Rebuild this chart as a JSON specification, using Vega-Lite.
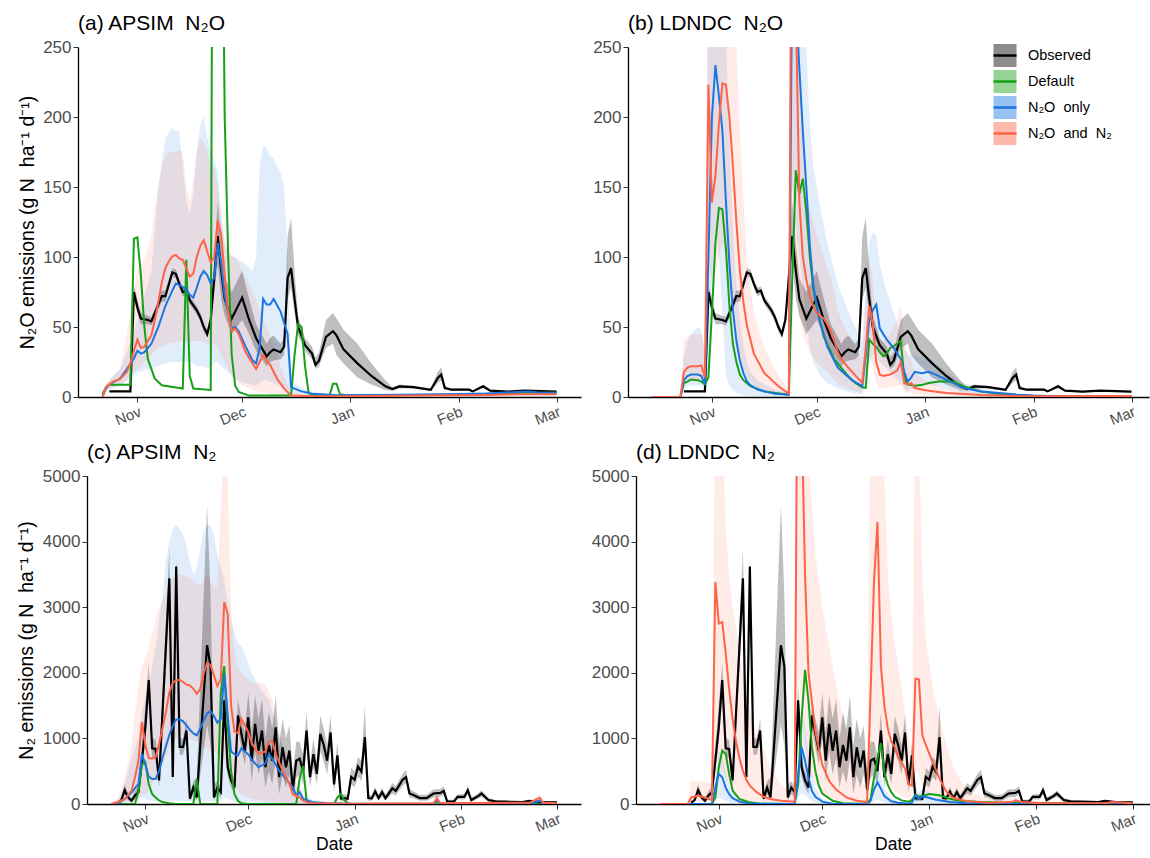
{
"$schema": "https://vega.github.io/schema/vega-lite/v6.json",
"padding": {"left": 5, "top": 13, "right": 0, "bottom": 0},
"config": {
 "font": "Liberation Sans",
 "view": {"stroke": null},
 "axis": {"grid": false, "domainColor": "#000", "domainWidth": 1.3, "tickColor": "#333", "tickSize": 5, "labelFontSize": 15, "labelColor": "#4d4d4d", "titleFontSize": 17.5, "titleFontWeight": "normal", "titleColor": "#000", "labelPadding": 2},
 "axisY": {"labelFontSize": 17, "titleFontSize": 19.5},
 "title": {"fontSize": 21, "fontWeight": "normal", "anchor": "start", "frame": "group", "offset": 0, "color": "#000"}
},
"datasets": {
"n2o_obs": [
{"d":"2018/10/24","v":4,"lo":3.5,"hi":4.5},{"d":"2018/10/30","v":4,"lo":3.5,"hi":4.5},{"d":"2018/10/31","v":75,"lo":70,"hi":80},{"d":"2018/11/01","v":64,"lo":60,"hi":70},{"d":"2018/11/02","v":56,"lo":52,"hi":60},{"d":"2018/11/04","v":55,"lo":52,"hi":58},{"d":"2018/11/05","v":54,"lo":51,"hi":57},{"d":"2018/11/06","v":60,"lo":56,"hi":63},{"d":"2018/11/08","v":72,"lo":68,"hi":76},{"d":"2018/11/09","v":72,"lo":68,"hi":76},{"d":"2018/11/11","v":89,"lo":86,"hi":92},{"d":"2018/11/12","v":88,"lo":85,"hi":91},{"d":"2018/11/13","v":81,"lo":78,"hi":84},{"d":"2018/11/14","v":75,"lo":72,"hi":78},{"d":"2018/11/15","v":76,"lo":73,"hi":79},{"d":"2018/11/16","v":69,"lo":66,"hi":72},{"d":"2018/11/18","v":62,"lo":59,"hi":65},{"d":"2018/11/19","v":57,"lo":54,"hi":60},{"d":"2018/11/20","v":50,"lo":47,"hi":53},{"d":"2018/11/21","v":45,"lo":42,"hi":48},{"d":"2018/11/22","v":55,"lo":51,"hi":59},{"d":"2018/11/23","v":85,"lo":75,"hi":100},{"d":"2018/11/24","v":115,"lo":95,"hi":140},{"d":"2018/11/25","v":90,"lo":70,"hi":110},{"d":"2018/11/26","v":70,"lo":58,"hi":85},{"d":"2018/11/28","v":56,"lo":45,"hi":75},{"d":"2018/12/01","v":71,"lo":55,"hi":90},{"d":"2018/12/03","v":55,"lo":45,"hi":70},{"d":"2018/12/05","v":42,"lo":33,"hi":52},{"d":"2018/12/08","v":29,"lo":22,"hi":38},{"d":"2018/12/09","v":32,"lo":25,"hi":42},{"d":"2018/12/10","v":34,"lo":26,"hi":44},{"d":"2018/12/12","v":32,"lo":27,"hi":38},{"d":"2018/12/13","v":36,"lo":30,"hi":42},{"d":"2018/12/14","v":85,"lo":70,"hi":115},{"d":"2018/12/15","v":92,"lo":78,"hi":128},{"d":"2018/12/16","v":70,"lo":60,"hi":90},{"d":"2018/12/17","v":50,"lo":44,"hi":58},{"d":"2018/12/19","v":37,"lo":33,"hi":42},{"d":"2018/12/21","v":31,"lo":27,"hi":36},{"d":"2018/12/22","v":23,"lo":20,"hi":28},{"d":"2018/12/23","v":26,"lo":22,"hi":32},{"d":"2018/12/25","v":43,"lo":35,"hi":55},{"d":"2018/12/27","v":47,"lo":38,"hi":60},{"d":"2018/12/28","v":44,"lo":30,"hi":56},{"d":"2018/12/30","v":34,"lo":24,"hi":48},{"d":"2019/01/03","v":24,"lo":14,"hi":38},{"d":"2019/01/07","v":15,"lo":9,"hi":24},{"d":"2019/01/11","v":7.6,"lo":5,"hi":12},{"d":"2019/01/13","v":5.7,"lo":4.5,"hi":7},{"d":"2019/01/15","v":7.6,"lo":6,"hi":9},{"d":"2019/01/19","v":7,"lo":6,"hi":8},{"d":"2019/01/24","v":5.2,"lo":4.5,"hi":6},{"d":"2019/01/26","v":13.6,"lo":10,"hi":18},{"d":"2019/01/27","v":16,"lo":12,"hi":21},{"d":"2019/01/28","v":6.4,"lo":5.5,"hi":8},{"d":"2019/01/30","v":5.2,"lo":4.5,"hi":6},{"d":"2019/02/04","v":5.2,"lo":4.5,"hi":6},{"d":"2019/02/05","v":4,"lo":3.5,"hi":4.5},{"d":"2019/02/07","v":6.4,"lo":5.5,"hi":7.5},{"d":"2019/02/08","v":7.6,"lo":6,"hi":9},{"d":"2019/02/10","v":4.5,"lo":4,"hi":5},{"d":"2019/02/15","v":3.8,"lo":3.3,"hi":4.3},{"d":"2019/02/20","v":4.5,"lo":4,"hi":5},{"d":"2019/03/01","v":3.8,"lo":3.3,"hi":4.3}
],
"n2_obs": [
{"d":"2018/10/24","v":20,"lo":10,"hi":40},{"d":"2018/10/25","v":60,"lo":30,"hi":100},{"d":"2018/10/26","v":210,"lo":150,"hi":300},{"d":"2018/10/27","v":100,"lo":60,"hi":150},{"d":"2018/10/28","v":50,"lo":20,"hi":90},{"d":"2018/10/29","v":130,"lo":80,"hi":200},{"d":"2018/10/30","v":180,"lo":120,"hi":260},{"d":"2018/10/31","v":660,"lo":500,"hi":900},{"d":"2018/11/01","v":1170,"lo":950,"hi":1500},{"d":"2018/11/02","v":1890,"lo":1600,"hi":2150},{"d":"2018/11/03","v":850,"lo":700,"hi":1000},{"d":"2018/11/04","v":840,"lo":700,"hi":980},{"d":"2018/11/05","v":360,"lo":250,"hi":500},{"d":"2018/11/08","v":3440,"lo":3000,"hi":3900},{"d":"2018/11/09","v":410,"lo":300,"hi":550},{"d":"2018/11/10","v":3620,"lo":3400,"hi":3780},{"d":"2018/11/11","v":870,"lo":750,"hi":1000},{"d":"2018/11/12","v":870,"lo":750,"hi":1000},{"d":"2018/11/13","v":1120,"lo":950,"hi":1300},{"d":"2018/11/14","v":80,"lo":40,"hi":150},{"d":"2018/11/15","v":250,"lo":150,"hi":350},{"d":"2018/11/16","v":100,"lo":50,"hi":400},{"d":"2018/11/19","v":2420,"lo":1200,"hi":4550},{"d":"2018/11/20","v":2100,"lo":900,"hi":3200},{"d":"2018/11/21","v":100,"lo":50,"hi":300},{"d":"2018/11/22","v":250,"lo":150,"hi":350},{"d":"2018/11/23","v":180,"lo":100,"hi":260},{"d":"2018/11/24","v":1580,"lo":1300,"hi":1850},{"d":"2018/11/25","v":560,"lo":420,"hi":700},{"d":"2018/11/26","v":360,"lo":250,"hi":500},{"d":"2018/11/27","v":250,"lo":150,"hi":350},{"d":"2018/11/28","v":1350,"lo":1150,"hi":1600},{"d":"2018/11/29","v":1070,"lo":850,"hi":1300},{"d":"2018/11/30","v":810,"lo":600,"hi":1100},{"d":"2018/12/01","v":1320,"lo":1000,"hi":1700},{"d":"2018/12/02","v":660,"lo":350,"hi":1100},{"d":"2018/12/03","v":1220,"lo":800,"hi":1650},{"d":"2018/12/04","v":810,"lo":450,"hi":1300},{"d":"2018/12/05","v":1120,"lo":700,"hi":1600},{"d":"2018/12/06","v":560,"lo":250,"hi":1000},{"d":"2018/12/07","v":900,"lo":500,"hi":1400},{"d":"2018/12/08","v":660,"lo":300,"hi":1150},{"d":"2018/12/09","v":1170,"lo":700,"hi":1650},{"d":"2018/12/10","v":410,"lo":150,"hi":900},{"d":"2018/12/11","v":865,"lo":450,"hi":1300},{"d":"2018/12/12","v":560,"lo":250,"hi":1000},{"d":"2018/12/13","v":815,"lo":450,"hi":1200},{"d":"2018/12/14","v":220,"lo":100,"hi":500},{"d":"2018/12/15","v":660,"lo":400,"hi":950},{"d":"2018/12/16","v":690,"lo":450,"hi":950},{"d":"2018/12/17","v":500,"lo":300,"hi":750},{"d":"2018/12/18","v":1120,"lo":850,"hi":1400},{"d":"2018/12/19","v":410,"lo":250,"hi":600},{"d":"2018/12/20","v":760,"lo":550,"hi":1000},{"d":"2018/12/21","v":460,"lo":300,"hi":650},{"d":"2018/12/22","v":1070,"lo":800,"hi":1350},{"d":"2018/12/23","v":900,"lo":650,"hi":1150},{"d":"2018/12/24","v":660,"lo":450,"hi":900},{"d":"2018/12/25","v":1090,"lo":850,"hi":1350},{"d":"2018/12/26","v":300,"lo":180,"hi":450},{"d":"2018/12/27","v":740,"lo":550,"hi":950},{"d":"2018/12/28","v":85,"lo":40,"hi":150},{"d":"2018/12/29","v":90,"lo":50,"hi":150},{"d":"2018/12/30","v":80,"lo":40,"hi":140},{"d":"2018/12/31","v":415,"lo":300,"hi":550},{"d":"2019/01/01","v":370,"lo":250,"hi":500},{"d":"2019/01/02","v":570,"lo":420,"hi":720},{"d":"2019/01/03","v":490,"lo":350,"hi":650},{"d":"2019/01/04","v":1020,"lo":800,"hi":1500},{"d":"2019/01/05","v":90,"lo":50,"hi":150},{"d":"2019/01/06","v":85,"lo":50,"hi":130},{"d":"2019/01/07","v":190,"lo":120,"hi":260},{"d":"2019/01/08","v":90,"lo":50,"hi":140},{"d":"2019/01/09","v":180,"lo":110,"hi":250},{"d":"2019/01/10","v":90,"lo":50,"hi":140},{"d":"2019/01/12","v":240,"lo":160,"hi":320},{"d":"2019/01/13","v":200,"lo":130,"hi":270},{"d":"2019/01/15","v":370,"lo":280,"hi":460},{"d":"2019/01/16","v":410,"lo":320,"hi":520},{"d":"2019/01/17","v":160,"lo":100,"hi":230},{"d":"2019/01/18","v":140,"lo":90,"hi":200},{"d":"2019/01/20","v":90,"lo":50,"hi":140},{"d":"2019/01/22","v":90,"lo":50,"hi":140},{"d":"2019/01/24","v":160,"lo":100,"hi":220},{"d":"2019/01/26","v":170,"lo":110,"hi":230},{"d":"2019/01/27","v":200,"lo":140,"hi":270},{"d":"2019/01/28","v":35,"lo":15,"hi":60},{"d":"2019/01/30","v":40,"lo":20,"hi":70},{"d":"2019/01/31","v":110,"lo":70,"hi":150},{"d":"2019/02/02","v":110,"lo":70,"hi":150},{"d":"2019/02/03","v":210,"lo":150,"hi":270},{"d":"2019/02/04","v":60,"lo":30,"hi":100},{"d":"2019/02/06","v":120,"lo":80,"hi":160},{"d":"2019/02/07","v":160,"lo":110,"hi":210},{"d":"2019/02/09","v":60,"lo":30,"hi":90},{"d":"2019/02/11","v":40,"lo":20,"hi":60},{"d":"2019/02/14","v":35,"lo":20,"hi":50},{"d":"2019/02/19","v":30,"lo":15,"hi":45},{"d":"2019/02/21","v":46,"lo":30,"hi":60},{"d":"2019/02/24","v":30,"lo":15,"hi":45},{"d":"2019/03/01","v":25,"lo":10,"hi":40}
],
"a": [
{"s":"Default","d":"2018/10/22","v":2},{"s":"Default","d":"2018/10/23","v":7},{"s":"Default","d":"2018/10/24","v":8.8},{"s":"Default","d":"2018/10/30","v":8.8},{"s":"Default","d":"2018/10/31","v":113},{"s":"Default","d":"2018/11/01","v":114},{"s":"Default","d":"2018/11/02","v":87},{"s":"Default","d":"2018/11/03","v":50},{"s":"Default","d":"2018/11/04","v":27},{"s":"Default","d":"2018/11/06","v":13},{"s":"Default","d":"2018/11/08","v":8.4},{"s":"Default","d":"2018/11/14","v":6},{"s":"Default","d":"2018/11/15","v":98},{"s":"Default","d":"2018/11/16","v":15},{"s":"Default","d":"2018/11/17","v":6},{"s":"Default","d":"2018/11/22","v":5},{"s":"Default","d":"2018/11/23","v":800},{"s":"Default","d":"2018/11/24","v":700},{"s":"Default","d":"2018/11/25","v":450},{"s":"Default","d":"2018/11/26","v":200},{"s":"Default","d":"2018/11/27","v":100},{"s":"Default","d":"2018/11/28","v":30},{"s":"Default","d":"2018/11/29","v":8},{"s":"Default","d":"2018/11/30","v":3.6},{"s":"Default","d":"2018/12/03","v":1},{"s":"Default","d":"2018/12/15","v":1},{"s":"Default","d":"2018/12/16","v":30},{"s":"Default","d":"2018/12/17","v":52},{"s":"Default","d":"2018/12/18","v":50},{"s":"Default","d":"2018/12/19","v":22},{"s":"Default","d":"2018/12/20","v":3},{"s":"Default","d":"2018/12/21","v":1},{"s":"Default","d":"2018/12/26","v":1},{"s":"Default","d":"2018/12/27","v":9.5},{"s":"Default","d":"2018/12/28","v":9.5},{"s":"Default","d":"2018/12/29","v":2},{"s":"Default","d":"2018/12/31","v":1},{"s":"Default","d":"2019/01/20","v":1.5},{"s":"Default","d":"2019/02/09","v":2},{"s":"Default","d":"2019/02/19","v":3},{"s":"Default","d":"2019/03/01","v":3},
{"s":"N2O only","d":"2018/10/22","v":0,"lo":0,"hi":1},{"s":"N2O only","d":"2018/10/23","v":6,"lo":4,"hi":9},{"s":"N2O only","d":"2018/10/24","v":9,"lo":5,"hi":12},{"s":"N2O only","d":"2018/10/25","v":10.5,"lo":6,"hi":15},{"s":"N2O only","d":"2018/10/27","v":13,"lo":8,"hi":20},{"s":"N2O only","d":"2018/10/29","v":20,"lo":12,"hi":32},{"s":"N2O only","d":"2018/10/31","v":27.5,"lo":15,"hi":45},{"s":"N2O only","d":"2018/11/01","v":33,"lo":18,"hi":55},{"s":"N2O only","d":"2018/11/02","v":31,"lo":18,"hi":65},{"s":"N2O only","d":"2018/11/03","v":32,"lo":19,"hi":72},{"s":"N2O only","d":"2018/11/05","v":38,"lo":20,"hi":90},{"s":"N2O only","d":"2018/11/07","v":50,"lo":22,"hi":150},{"s":"N2O only","d":"2018/11/09","v":65,"lo":24,"hi":185},{"s":"N2O only","d":"2018/11/11","v":76,"lo":25,"hi":192},{"s":"N2O only","d":"2018/11/12","v":81,"lo":25,"hi":190},{"s":"N2O only","d":"2018/11/13","v":80,"lo":25,"hi":190},{"s":"N2O only","d":"2018/11/15","v":77,"lo":25,"hi":140},{"s":"N2O only","d":"2018/11/16","v":73,"lo":25,"hi":130},{"s":"N2O only","d":"2018/11/17","v":71,"lo":24,"hi":145},{"s":"N2O only","d":"2018/11/18","v":78,"lo":22,"hi":175},{"s":"N2O only","d":"2018/11/19","v":86,"lo":22,"hi":195},{"s":"N2O only","d":"2018/11/20","v":90,"lo":22,"hi":200},{"s":"N2O only","d":"2018/11/21","v":87,"lo":20,"hi":185},{"s":"N2O only","d":"2018/11/22","v":81,"lo":20,"hi":175},{"s":"N2O only","d":"2018/11/23","v":85,"lo":25,"hi":170},{"s":"N2O only","d":"2018/11/24","v":110,"lo":25,"hi":160},{"s":"N2O only","d":"2018/11/25","v":95,"lo":22,"hi":130},{"s":"N2O only","d":"2018/11/26","v":72,"lo":20,"hi":110},{"s":"N2O only","d":"2018/11/27","v":60,"lo":18,"hi":102},{"s":"N2O only","d":"2018/11/28","v":49,"lo":15,"hi":100},{"s":"N2O only","d":"2018/11/29","v":50,"lo":13,"hi":100},{"s":"N2O only","d":"2018/11/30","v":47,"lo":12,"hi":98},{"s":"N2O only","d":"2018/12/02","v":36,"lo":10,"hi":95},{"s":"N2O only","d":"2018/12/04","v":26,"lo":8,"hi":90},{"s":"N2O only","d":"2018/12/05","v":24,"lo":8,"hi":100},{"s":"N2O only","d":"2018/12/06","v":35,"lo":10,"hi":165},{"s":"N2O only","d":"2018/12/07","v":70,"lo":12,"hi":180},{"s":"N2O only","d":"2018/12/08","v":66,"lo":12,"hi":178},{"s":"N2O only","d":"2018/12/09","v":66,"lo":11,"hi":172},{"s":"N2O only","d":"2018/12/10","v":70,"lo":10,"hi":170},{"s":"N2O only","d":"2018/12/12","v":61,"lo":8,"hi":160},{"s":"N2O only","d":"2018/12/13","v":53,"lo":6,"hi":150},{"s":"N2O only","d":"2018/12/14","v":45,"lo":3,"hi":100},{"s":"N2O only","d":"2018/12/15","v":7,"lo":1,"hi":15},{"s":"N2O only","d":"2018/12/16","v":6,"lo":1,"hi":10},{"s":"N2O only","d":"2018/12/18","v":4,"lo":0.5,"hi":6},{"s":"N2O only","d":"2018/12/21","v":2.4,"lo":0,"hi":4},{"s":"N2O only","d":"2018/12/28","v":1.2,"lo":0,"hi":2},{"s":"N2O only","d":"2019/01/10","v":1.5,"lo":0.5,"hi":2.5},{"s":"N2O only","d":"2019/01/30","v":2,"lo":1,"hi":3},{"s":"N2O only","d":"2019/02/09","v":2.5,"lo":1.5,"hi":3.5},{"s":"N2O only","d":"2019/02/21","v":4,"lo":2.5,"hi":5},{"s":"N2O only","d":"2019/02/24","v":3,"lo":2,"hi":4},{"s":"N2O only","d":"2019/03/01","v":3,"lo":2,"hi":4},
{"s":"N2O and N2","d":"2018/10/22","v":0,"lo":0,"hi":1},{"s":"N2O and N2","d":"2018/10/23","v":7,"lo":5,"hi":9},{"s":"N2O and N2","d":"2018/10/24","v":9,"lo":6,"hi":12},{"s":"N2O and N2","d":"2018/10/25","v":11,"lo":7,"hi":15},{"s":"N2O and N2","d":"2018/10/27","v":12.7,"lo":8,"hi":20},{"s":"N2O and N2","d":"2018/10/29","v":18,"lo":12,"hi":45},{"s":"N2O and N2","d":"2018/10/30","v":24,"lo":15,"hi":60},{"s":"N2O and N2","d":"2018/10/31","v":33,"lo":18,"hi":75},{"s":"N2O and N2","d":"2018/11/01","v":41,"lo":20,"hi":90},{"s":"N2O and N2","d":"2018/11/02","v":35,"lo":22,"hi":95},{"s":"N2O and N2","d":"2018/11/03","v":36,"lo":25,"hi":98},{"s":"N2O and N2","d":"2018/11/05","v":44,"lo":30,"hi":115},{"s":"N2O and N2","d":"2018/11/06","v":55,"lo":33,"hi":135},{"s":"N2O and N2","d":"2018/11/07","v":68,"lo":35,"hi":150},{"s":"N2O and N2","d":"2018/11/08","v":82,"lo":36,"hi":165},{"s":"N2O and N2","d":"2018/11/09","v":92,"lo":37,"hi":172},{"s":"N2O and N2","d":"2018/11/10","v":97,"lo":38,"hi":175},{"s":"N2O and N2","d":"2018/11/11","v":100.5,"lo":39,"hi":175},{"s":"N2O and N2","d":"2018/11/12","v":101.5,"lo":39,"hi":175},{"s":"N2O and N2","d":"2018/11/13","v":99,"lo":40,"hi":176},{"s":"N2O and N2","d":"2018/11/14","v":98,"lo":40,"hi":175},{"s":"N2O and N2","d":"2018/11/15","v":92,"lo":40,"hi":150},{"s":"N2O and N2","d":"2018/11/16","v":86,"lo":40,"hi":140},{"s":"N2O and N2","d":"2018/11/17","v":88,"lo":40,"hi":155},{"s":"N2O and N2","d":"2018/11/18","v":100,"lo":40,"hi":175},{"s":"N2O and N2","d":"2018/11/19","v":108,"lo":40,"hi":185},{"s":"N2O and N2","d":"2018/11/20","v":112,"lo":39,"hi":182},{"s":"N2O and N2","d":"2018/11/21","v":104,"lo":38,"hi":175},{"s":"N2O and N2","d":"2018/11/22","v":96,"lo":38,"hi":165},{"s":"N2O and N2","d":"2018/11/23","v":100,"lo":38,"hi":165},{"s":"N2O and N2","d":"2018/11/24","v":126,"lo":35,"hi":150},{"s":"N2O and N2","d":"2018/11/25","v":116,"lo":30,"hi":130},{"s":"N2O and N2","d":"2018/11/26","v":87,"lo":25,"hi":110},{"s":"N2O and N2","d":"2018/11/27","v":60,"lo":20,"hi":105},{"s":"N2O and N2","d":"2018/11/28","v":47,"lo":15,"hi":102},{"s":"N2O and N2","d":"2018/11/29","v":49,"lo":12,"hi":100},{"s":"N2O and N2","d":"2018/11/30","v":45,"lo":10,"hi":95},{"s":"N2O and N2","d":"2018/12/02","v":32,"lo":7,"hi":85},{"s":"N2O and N2","d":"2018/12/04","v":24,"lo":5,"hi":75},{"s":"N2O and N2","d":"2018/12/05","v":20,"lo":4,"hi":70},{"s":"N2O and N2","d":"2018/12/06","v":25,"lo":4,"hi":62},{"s":"N2O and N2","d":"2018/12/07","v":30,"lo":3,"hi":55},{"s":"N2O and N2","d":"2018/12/08","v":26,"lo":3,"hi":50},{"s":"N2O and N2","d":"2018/12/09","v":23,"lo":2,"hi":45},{"s":"N2O and N2","d":"2018/12/11","v":13,"lo":1,"hi":30},{"s":"N2O and N2","d":"2018/12/13","v":6,"lo":0.5,"hi":15},{"s":"N2O and N2","d":"2018/12/15","v":1,"lo":0,"hi":3},{"s":"N2O and N2","d":"2018/12/21","v":0.5,"lo":0,"hi":1},{"s":"N2O and N2","d":"2018/12/31","v":0.5,"lo":0,"hi":1},{"s":"N2O and N2","d":"2019/01/20","v":1,"lo":0.5,"hi":1.5},{"s":"N2O and N2","d":"2019/02/09","v":1.5,"lo":1,"hi":2},{"s":"N2O and N2","d":"2019/02/19","v":2,"lo":1,"hi":3},{"s":"N2O and N2","d":"2019/03/01","v":2,"lo":1.5,"hi":3}
],
"b": [
{"s":"Default","d":"2018/10/15","v":0},{"s":"Default","d":"2018/10/23","v":0},{"s":"Default","d":"2018/10/24","v":10},{"s":"Default","d":"2018/10/25","v":11},{"s":"Default","d":"2018/10/26","v":12.5},{"s":"Default","d":"2018/10/28","v":12},{"s":"Default","d":"2018/10/29","v":11},{"s":"Default","d":"2018/10/30","v":9},{"s":"Default","d":"2018/10/31","v":14},{"s":"Default","d":"2018/11/01","v":60},{"s":"Default","d":"2018/11/02","v":110},{"s":"Default","d":"2018/11/03","v":135},{"s":"Default","d":"2018/11/04","v":134},{"s":"Default","d":"2018/11/05","v":106},{"s":"Default","d":"2018/11/06","v":65},{"s":"Default","d":"2018/11/07","v":38},{"s":"Default","d":"2018/11/08","v":25},{"s":"Default","d":"2018/11/09","v":16},{"s":"Default","d":"2018/11/10","v":12},{"s":"Default","d":"2018/11/12","v":7.7},{"s":"Default","d":"2018/11/16","v":4},{"s":"Default","d":"2018/11/23","v":1.7},{"s":"Default","d":"2018/11/24","v":87},{"s":"Default","d":"2018/11/25","v":162},{"s":"Default","d":"2018/11/26","v":145},{"s":"Default","d":"2018/11/27","v":156},{"s":"Default","d":"2018/11/28","v":132},{"s":"Default","d":"2018/11/29","v":100},{"s":"Default","d":"2018/11/30","v":78},{"s":"Default","d":"2018/12/01","v":63},{"s":"Default","d":"2018/12/03","v":43},{"s":"Default","d":"2018/12/06","v":27},{"s":"Default","d":"2018/12/10","v":14.8},{"s":"Default","d":"2018/12/12","v":10},{"s":"Default","d":"2018/12/14","v":7},{"s":"Default","d":"2018/12/15","v":6.5},{"s":"Default","d":"2018/12/16","v":41},{"s":"Default","d":"2018/12/17","v":38},{"s":"Default","d":"2018/12/18","v":36},{"s":"Default","d":"2018/12/19","v":32},{"s":"Default","d":"2018/12/20","v":29},{"s":"Default","d":"2018/12/21","v":31},{"s":"Default","d":"2018/12/22","v":35},{"s":"Default","d":"2018/12/24","v":38},{"s":"Default","d":"2018/12/25","v":40},{"s":"Default","d":"2018/12/26","v":14},{"s":"Default","d":"2018/12/27","v":9},{"s":"Default","d":"2018/12/29","v":8},{"s":"Default","d":"2018/12/31","v":8.5},{"s":"Default","d":"2019/01/02","v":10},{"s":"Default","d":"2019/01/05","v":11},{"s":"Default","d":"2019/01/09","v":11},{"s":"Default","d":"2019/01/12","v":7.6},{"s":"Default","d":"2019/01/17","v":4},{"s":"Default","d":"2019/01/22","v":2.4},{"s":"Default","d":"2019/01/27","v":1.4},{"s":"Default","d":"2019/02/01","v":0.8},{"s":"Default","d":"2019/03/01","v":0.5},
{"s":"N2O only","d":"2018/10/15","v":0,"lo":0,"hi":0},{"s":"N2O only","d":"2018/10/23","v":0,"lo":0,"hi":0},{"s":"N2O only","d":"2018/10/24","v":12,"lo":6,"hi":30},{"s":"N2O only","d":"2018/10/25","v":15,"lo":8,"hi":40},{"s":"N2O only","d":"2018/10/26","v":16,"lo":8,"hi":45},{"s":"N2O only","d":"2018/10/28","v":16,"lo":8,"hi":50},{"s":"N2O only","d":"2018/10/29","v":15,"lo":8,"hi":48},{"s":"N2O only","d":"2018/10/30","v":9,"lo":5,"hi":30},{"s":"N2O only","d":"2018/10/31","v":100,"lo":20,"hi":300},{"s":"N2O only","d":"2018/11/01","v":200,"lo":80,"hi":400},{"s":"N2O only","d":"2018/11/02","v":237,"lo":120,"hi":450},{"s":"N2O only","d":"2018/11/03","v":215,"lo":100,"hi":400},{"s":"N2O only","d":"2018/11/04","v":190,"lo":60,"hi":330},{"s":"N2O only","d":"2018/11/05","v":140,"lo":15,"hi":260},{"s":"N2O only","d":"2018/11/06","v":95,"lo":8,"hi":180},{"s":"N2O only","d":"2018/11/07","v":62,"lo":5,"hi":120},{"s":"N2O only","d":"2018/11/08","v":40,"lo":3,"hi":80},{"s":"N2O only","d":"2018/11/09","v":26,"lo":2,"hi":55},{"s":"N2O only","d":"2018/11/10","v":17,"lo":1.5,"hi":38},{"s":"N2O only","d":"2018/11/11","v":11.3,"lo":1,"hi":25},{"s":"N2O only","d":"2018/11/12","v":8.5,"lo":0.8,"hi":18},{"s":"N2O only","d":"2018/11/14","v":5.3,"lo":0.5,"hi":12},{"s":"N2O only","d":"2018/11/19","v":2.4,"lo":0.2,"hi":5},{"s":"N2O only","d":"2018/11/23","v":1.7,"lo":0.2,"hi":4},{"s":"N2O only","d":"2018/11/24","v":330,"lo":150,"hi":500},{"s":"N2O only","d":"2018/11/25","v":280,"lo":120,"hi":450},{"s":"N2O only","d":"2018/11/26","v":235,"lo":100,"hi":400},{"s":"N2O only","d":"2018/11/27","v":190,"lo":80,"hi":330},{"s":"N2O only","d":"2018/11/28","v":150,"lo":55,"hi":250},{"s":"N2O only","d":"2018/11/29","v":108,"lo":35,"hi":195},{"s":"N2O only","d":"2018/11/30","v":80,"lo":25,"hi":165},{"s":"N2O only","d":"2018/12/01","v":65,"lo":20,"hi":150},{"s":"N2O only","d":"2018/12/02","v":53,"lo":15,"hi":135},{"s":"N2O only","d":"2018/12/04","v":36,"lo":10,"hi":110},{"s":"N2O only","d":"2018/12/07","v":21,"lo":6,"hi":80},{"s":"N2O only","d":"2018/12/11","v":12,"lo":3,"hi":55},{"s":"N2O only","d":"2018/12/14","v":7.7,"lo":2,"hi":40},{"s":"N2O only","d":"2018/12/15","v":30,"lo":10,"hi":80},{"s":"N2O only","d":"2018/12/16","v":55,"lo":25,"hi":110},{"s":"N2O only","d":"2018/12/17","v":62,"lo":30,"hi":118},{"s":"N2O only","d":"2018/12/18","v":66,"lo":30,"hi":115},{"s":"N2O only","d":"2018/12/19","v":49,"lo":25,"hi":95},{"s":"N2O only","d":"2018/12/21","v":41,"lo":20,"hi":75},{"s":"N2O only","d":"2018/12/23","v":35,"lo":15,"hi":60},{"s":"N2O only","d":"2018/12/25","v":27,"lo":10,"hi":45},{"s":"N2O only","d":"2018/12/26","v":18,"lo":6,"hi":35},{"s":"N2O only","d":"2018/12/27","v":11,"lo":4,"hi":30},{"s":"N2O only","d":"2018/12/28","v":14,"lo":6,"hi":30},{"s":"N2O only","d":"2018/12/29","v":18,"lo":8,"hi":30},{"s":"N2O only","d":"2018/12/31","v":17,"lo":8,"hi":28},{"s":"N2O only","d":"2019/01/02","v":18,"lo":9,"hi":26},{"s":"N2O only","d":"2019/01/04","v":16,"lo":8,"hi":24},{"s":"N2O only","d":"2019/01/07","v":12.4,"lo":6,"hi":18},{"s":"N2O only","d":"2019/01/12","v":6.4,"lo":3,"hi":10},{"s":"N2O only","d":"2019/01/17","v":4,"lo":2,"hi":6},{"s":"N2O only","d":"2019/01/22","v":2.9,"lo":1.5,"hi":4},{"s":"N2O only","d":"2019/01/27","v":1.7,"lo":1,"hi":2.5},{"s":"N2O only","d":"2019/02/01","v":1,"lo":0.5,"hi":1.5},{"s":"N2O only","d":"2019/02/09","v":0.4,"lo":0.2,"hi":0.6},{"s":"N2O only","d":"2019/03/01","v":0.4,"lo":0.2,"hi":0.6},
{"s":"N2O and N2","d":"2018/10/15","v":0,"lo":0,"hi":0},{"s":"N2O and N2","d":"2018/10/23","v":0,"lo":0,"hi":0},{"s":"N2O and N2","d":"2018/10/24","v":18,"lo":10,"hi":40},{"s":"N2O and N2","d":"2018/10/25","v":21,"lo":12,"hi":43},{"s":"N2O and N2","d":"2018/10/26","v":22,"lo":12,"hi":45},{"s":"N2O and N2","d":"2018/10/28","v":22,"lo":12,"hi":45},{"s":"N2O and N2","d":"2018/10/29","v":22.5,"lo":12,"hi":45},{"s":"N2O and N2","d":"2018/10/30","v":14,"lo":8,"hi":35},{"s":"N2O and N2","d":"2018/10/31","v":223,"lo":100,"hi":400},{"s":"N2O and N2","d":"2018/11/01","v":139,"lo":80,"hi":400},{"s":"N2O and N2","d":"2018/11/02","v":158,"lo":90,"hi":450},{"s":"N2O and N2","d":"2018/11/03","v":195,"lo":100,"hi":450},{"s":"N2O and N2","d":"2018/11/04","v":224,"lo":110,"hi":450},{"s":"N2O and N2","d":"2018/11/05","v":223,"lo":100,"hi":420},{"s":"N2O and N2","d":"2018/11/06","v":200,"lo":80,"hi":380},{"s":"N2O and N2","d":"2018/11/07","v":165,"lo":60,"hi":320},{"s":"N2O and N2","d":"2018/11/08","v":125,"lo":40,"hi":250},{"s":"N2O and N2","d":"2018/11/09","v":90,"lo":30,"hi":190},{"s":"N2O and N2","d":"2018/11/10","v":68,"lo":20,"hi":140},{"s":"N2O and N2","d":"2018/11/11","v":51,"lo":15,"hi":100},{"s":"N2O and N2","d":"2018/11/13","v":31,"lo":8,"hi":60},{"s":"N2O and N2","d":"2018/11/16","v":17,"lo":4,"hi":35},{"s":"N2O and N2","d":"2018/11/20","v":7.7,"lo":2,"hi":15},{"s":"N2O and N2","d":"2018/11/23","v":2.4,"lo":0.5,"hi":5},{"s":"N2O and N2","d":"2018/11/24","v":500,"lo":150,"hi":800},{"s":"N2O and N2","d":"2018/11/25","v":280,"lo":100,"hi":500},{"s":"N2O and N2","d":"2018/11/26","v":140,"lo":60,"hi":250},{"s":"N2O and N2","d":"2018/11/27","v":100,"lo":45,"hi":180},{"s":"N2O and N2","d":"2018/11/28","v":84,"lo":38,"hi":150},{"s":"N2O and N2","d":"2018/11/29","v":72,"lo":32,"hi":135},{"s":"N2O and N2","d":"2018/11/30","v":65,"lo":28,"hi":125},{"s":"N2O and N2","d":"2018/12/01","v":60,"lo":25,"hi":115},{"s":"N2O and N2","d":"2018/12/02","v":58,"lo":22,"hi":108},{"s":"N2O and N2","d":"2018/12/03","v":56,"lo":20,"hi":100},{"s":"N2O and N2","d":"2018/12/04","v":52,"lo":18,"hi":92},{"s":"N2O and N2","d":"2018/12/05","v":47,"lo":15,"hi":85},{"s":"N2O and N2","d":"2018/12/06","v":40,"lo":12,"hi":75},{"s":"N2O and N2","d":"2018/12/07","v":32,"lo":10,"hi":62},{"s":"N2O and N2","d":"2018/12/08","v":27,"lo":8,"hi":55},{"s":"N2O and N2","d":"2018/12/10","v":21,"lo":6,"hi":45},{"s":"N2O and N2","d":"2018/12/12","v":15.5,"lo":4,"hi":35},{"s":"N2O and N2","d":"2018/12/14","v":10,"lo":3,"hi":25},{"s":"N2O and N2","d":"2018/12/15","v":35,"lo":15,"hi":70},{"s":"N2O and N2","d":"2018/12/16","v":65,"lo":30,"hi":98},{"s":"N2O and N2","d":"2018/12/17","v":52,"lo":22,"hi":85},{"s":"N2O and N2","d":"2018/12/18","v":25,"lo":10,"hi":55},{"s":"N2O and N2","d":"2018/12/19","v":16,"lo":6,"hi":40},{"s":"N2O and N2","d":"2018/12/20","v":15,"lo":6,"hi":40},{"s":"N2O and N2","d":"2018/12/22","v":16,"lo":7,"hi":45},{"s":"N2O and N2","d":"2018/12/24","v":19,"lo":8,"hi":55},{"s":"N2O and N2","d":"2018/12/25","v":25,"lo":9,"hi":67},{"s":"N2O and N2","d":"2018/12/26","v":10,"lo":4,"hi":40},{"s":"N2O and N2","d":"2018/12/27","v":8.8,"lo":3,"hi":30},{"s":"N2O and N2","d":"2018/12/28","v":10,"lo":3,"hi":25},{"s":"N2O and N2","d":"2018/12/29","v":6.4,"lo":2,"hi":18},{"s":"N2O and N2","d":"2019/01/01","v":4.8,"lo":1.5,"hi":12},{"s":"N2O and N2","d":"2019/01/07","v":2.9,"lo":1,"hi":6},{"s":"N2O and N2","d":"2019/01/17","v":1.4,"lo":0.5,"hi":3},{"s":"N2O and N2","d":"2019/01/27","v":0.7,"lo":0.3,"hi":1.5},{"s":"N2O and N2","d":"2019/02/10","v":0.5,"lo":0.2,"hi":1},{"s":"N2O and N2","d":"2019/03/01","v":0.8,"lo":0.4,"hi":1.2}
],
"c": [
{"s":"Default","d":"2018/10/22","v":0},{"s":"Default","d":"2018/10/29","v":0},{"s":"Default","d":"2018/10/30","v":200},{"s":"Default","d":"2018/10/31","v":600},{"s":"Default","d":"2018/11/01","v":640},{"s":"Default","d":"2018/11/02","v":305},{"s":"Default","d":"2018/11/03","v":150},{"s":"Default","d":"2018/11/04","v":100},{"s":"Default","d":"2018/11/05","v":55},{"s":"Default","d":"2018/11/06","v":30},{"s":"Default","d":"2018/11/08","v":10},{"s":"Default","d":"2018/11/10","v":0},{"s":"Default","d":"2018/11/15","v":0},{"s":"Default","d":"2018/11/16","v":380},{"s":"Default","d":"2018/11/17","v":0},{"s":"Default","d":"2018/11/22","v":0},{"s":"Default","d":"2018/11/23","v":1700},{"s":"Default","d":"2018/11/24","v":2100},{"s":"Default","d":"2018/11/25","v":1200},{"s":"Default","d":"2018/11/26","v":500},{"s":"Default","d":"2018/11/27","v":150},{"s":"Default","d":"2018/11/28","v":50},{"s":"Default","d":"2018/11/29","v":12},{"s":"Default","d":"2018/12/01","v":0},{"s":"Default","d":"2018/12/15","v":0},{"s":"Default","d":"2018/12/16","v":400},{"s":"Default","d":"2018/12/17","v":580},{"s":"Default","d":"2018/12/18","v":50},{"s":"Default","d":"2018/12/19","v":0},{"s":"Default","d":"2018/12/26","v":0},{"s":"Default","d":"2018/12/27","v":100},{"s":"Default","d":"2018/12/28","v":150},{"s":"Default","d":"2018/12/29","v":60},{"s":"Default","d":"2018/12/30","v":10},{"s":"Default","d":"2018/12/31","v":0},{"s":"Default","d":"2019/01/24","v":0},{"s":"Default","d":"2019/01/25","v":35},{"s":"Default","d":"2019/01/26","v":0},{"s":"Default","d":"2019/02/21","v":0},{"s":"Default","d":"2019/02/22","v":35},{"s":"Default","d":"2019/02/23","v":0},{"s":"Default","d":"2019/03/01","v":0},
{"s":"N2O only","d":"2018/10/22","v":0,"lo":0,"hi":0},{"s":"N2O only","d":"2018/10/24","v":10,"lo":5,"hi":40},{"s":"N2O only","d":"2018/10/26","v":76,"lo":20,"hi":300},{"s":"N2O only","d":"2018/10/28","v":178,"lo":40,"hi":700},{"s":"N2O only","d":"2018/10/30","v":305,"lo":60,"hi":1000},{"s":"N2O only","d":"2018/10/31","v":763,"lo":100,"hi":1400},{"s":"N2O only","d":"2018/11/01","v":600,"lo":80,"hi":1600},{"s":"N2O only","d":"2018/11/02","v":420,"lo":60,"hi":1800},{"s":"N2O only","d":"2018/11/03","v":382,"lo":50,"hi":2100},{"s":"N2O only","d":"2018/11/04","v":382,"lo":50,"hi":2400},{"s":"N2O only","d":"2018/11/05","v":500,"lo":50,"hi":2800},{"s":"N2O only","d":"2018/11/06","v":700,"lo":50,"hi":3200},{"s":"N2O only","d":"2018/11/07","v":880,"lo":50,"hi":3700},{"s":"N2O only","d":"2018/11/08","v":1050,"lo":50,"hi":4000},{"s":"N2O only","d":"2018/11/09","v":1190,"lo":50,"hi":4200},{"s":"N2O only","d":"2018/11/10","v":1290,"lo":50,"hi":4250},{"s":"N2O only","d":"2018/11/11","v":1290,"lo":50,"hi":4200},{"s":"N2O only","d":"2018/11/12","v":1260,"lo":50,"hi":4100},{"s":"N2O only","d":"2018/11/13","v":1200,"lo":50,"hi":3950},{"s":"N2O only","d":"2018/11/14","v":1130,"lo":50,"hi":3700},{"s":"N2O only","d":"2018/11/15","v":1075,"lo":50,"hi":3500},{"s":"N2O only","d":"2018/11/16","v":1045,"lo":50,"hi":3600},{"s":"N2O only","d":"2018/11/17","v":1150,"lo":50,"hi":3900},{"s":"N2O only","d":"2018/11/18","v":1270,"lo":50,"hi":4150},{"s":"N2O only","d":"2018/11/19","v":1380,"lo":50,"hi":4250},{"s":"N2O only","d":"2018/11/20","v":1415,"lo":50,"hi":4250},{"s":"N2O only","d":"2018/11/21","v":1340,"lo":50,"hi":4100},{"s":"N2O only","d":"2018/11/22","v":1240,"lo":50,"hi":3800},{"s":"N2O only","d":"2018/11/23","v":1300,"lo":50,"hi":3600},{"s":"N2O only","d":"2018/11/24","v":1985,"lo":100,"hi":3400},{"s":"N2O only","d":"2018/11/25","v":1350,"lo":80,"hi":3100},{"s":"N2O only","d":"2018/11/26","v":800,"lo":60,"hi":2800},{"s":"N2O only","d":"2018/11/27","v":760,"lo":40,"hi":2600},{"s":"N2O only","d":"2018/11/28","v":740,"lo":30,"hi":2450},{"s":"N2O only","d":"2018/11/29","v":850,"lo":30,"hi":2400},{"s":"N2O only","d":"2018/11/30","v":800,"lo":30,"hi":2300},{"s":"N2O only","d":"2018/12/01","v":760,"lo":25,"hi":2150},{"s":"N2O only","d":"2018/12/02","v":680,"lo":25,"hi":2000},{"s":"N2O only","d":"2018/12/04","v":560,"lo":20,"hi":1800},{"s":"N2O only","d":"2018/12/06","v":620,"lo":15,"hi":1650},{"s":"N2O only","d":"2018/12/07","v":763,"lo":15,"hi":1600},{"s":"N2O only","d":"2018/12/08","v":690,"lo":10,"hi":1400},{"s":"N2O only","d":"2018/12/10","v":509,"lo":5,"hi":1050},{"s":"N2O only","d":"2018/12/12","v":382,"lo":5,"hi":700},{"s":"N2O only","d":"2018/12/14","v":254,"lo":3,"hi":420},{"s":"N2O only","d":"2018/12/15","v":127,"lo":2,"hi":250},{"s":"N2O only","d":"2018/12/16","v":178,"lo":2,"hi":300},{"s":"N2O only","d":"2018/12/17","v":76,"lo":1,"hi":150},{"s":"N2O only","d":"2018/12/20","v":25,"lo":0,"hi":60},{"s":"N2O only","d":"2018/12/24","v":10,"lo":0,"hi":25},{"s":"N2O only","d":"2018/12/31","v":5,"lo":0,"hi":10},{"s":"N2O only","d":"2019/01/24","v":5,"lo":0,"hi":10},{"s":"N2O only","d":"2019/01/25","v":60,"lo":20,"hi":100},{"s":"N2O only","d":"2019/01/26","v":10,"lo":0,"hi":20},{"s":"N2O only","d":"2019/02/21","v":5,"lo":0,"hi":10},{"s":"N2O only","d":"2019/02/24","v":50,"lo":20,"hi":80},{"s":"N2O only","d":"2019/02/25","v":10,"lo":0,"hi":20},{"s":"N2O only","d":"2019/03/01","v":5,"lo":0,"hi":10},
{"s":"N2O and N2","d":"2018/10/22","v":0,"lo":0,"hi":0},{"s":"N2O and N2","d":"2018/10/24","v":30,"lo":10,"hi":100},{"s":"N2O and N2","d":"2018/10/26","v":76,"lo":20,"hi":400},{"s":"N2O and N2","d":"2018/10/28","v":204,"lo":50,"hi":900},{"s":"N2O and N2","d":"2018/10/29","v":407,"lo":80,"hi":1400},{"s":"N2O and N2","d":"2018/10/30","v":662,"lo":100,"hi":1800},{"s":"N2O and N2","d":"2018/10/31","v":1247,"lo":150,"hi":2100},{"s":"N2O and N2","d":"2018/11/01","v":900,"lo":150,"hi":2200},{"s":"N2O and N2","d":"2018/11/02","v":700,"lo":200,"hi":2400},{"s":"N2O and N2","d":"2018/11/03","v":690,"lo":300,"hi":2600},{"s":"N2O and N2","d":"2018/11/04","v":713,"lo":400,"hi":2800},{"s":"N2O and N2","d":"2018/11/05","v":916,"lo":500,"hi":3000},{"s":"N2O and N2","d":"2018/11/06","v":1150,"lo":600,"hi":3100},{"s":"N2O and N2","d":"2018/11/07","v":1400,"lo":700,"hi":3200},{"s":"N2O and N2","d":"2018/11/08","v":1700,"lo":850,"hi":3300},{"s":"N2O and N2","d":"2018/11/09","v":1850,"lo":950,"hi":3450},{"s":"N2O and N2","d":"2018/11/10","v":1885,"lo":1000,"hi":3500},{"s":"N2O and N2","d":"2018/11/11","v":1893,"lo":1050,"hi":3500},{"s":"N2O and N2","d":"2018/11/12","v":1860,"lo":1050,"hi":3480},{"s":"N2O and N2","d":"2018/11/13","v":1820,"lo":1000,"hi":3460},{"s":"N2O and N2","d":"2018/11/14","v":1807,"lo":980,"hi":3450},{"s":"N2O and N2","d":"2018/11/15","v":1756,"lo":970,"hi":3400},{"s":"N2O and N2","d":"2018/11/16","v":1680,"lo":950,"hi":3350},{"s":"N2O and N2","d":"2018/11/17","v":1750,"lo":900,"hi":3350},{"s":"N2O and N2","d":"2018/11/18","v":1985,"lo":880,"hi":3400},{"s":"N2O and N2","d":"2018/11/19","v":2150,"lo":850,"hi":3500},{"s":"N2O and N2","d":"2018/11/20","v":2120,"lo":820,"hi":3400},{"s":"N2O and N2","d":"2018/11/21","v":1960,"lo":800,"hi":3300},{"s":"N2O and N2","d":"2018/11/22","v":1800,"lo":750,"hi":3300},{"s":"N2O and N2","d":"2018/11/23","v":1900,"lo":700,"hi":4500},{"s":"N2O and N2","d":"2018/11/24","v":3080,"lo":650,"hi":5500},{"s":"N2O and N2","d":"2018/11/25","v":2900,"lo":600,"hi":5000},{"s":"N2O and N2","d":"2018/11/26","v":1500,"lo":450,"hi":3000},{"s":"N2O and N2","d":"2018/11/27","v":1100,"lo":300,"hi":2300},{"s":"N2O and N2","d":"2018/11/28","v":1080,"lo":200,"hi":2100},{"s":"N2O and N2","d":"2018/11/29","v":1300,"lo":150,"hi":2000},{"s":"N2O and N2","d":"2018/11/30","v":1200,"lo":120,"hi":1950},{"s":"N2O and N2","d":"2018/12/01","v":1100,"lo":100,"hi":1900},{"s":"N2O and N2","d":"2018/12/02","v":930,"lo":80,"hi":1850},{"s":"N2O and N2","d":"2018/12/04","v":763,"lo":60,"hi":1850},{"s":"N2O and N2","d":"2018/12/06","v":800,"lo":40,"hi":1830},{"s":"N2O and N2","d":"2018/12/07","v":950,"lo":30,"hi":1700},{"s":"N2O and N2","d":"2018/12/08","v":967,"lo":25,"hi":1600},{"s":"N2O and N2","d":"2018/12/09","v":763,"lo":20,"hi":1300},{"s":"N2O and N2","d":"2018/12/11","v":509,"lo":10,"hi":900},{"s":"N2O and N2","d":"2018/12/13","v":305,"lo":5,"hi":600},{"s":"N2O and N2","d":"2018/12/14","v":150,"lo":2,"hi":400},{"s":"N2O and N2","d":"2018/12/16","v":100,"lo":1,"hi":250},{"s":"N2O and N2","d":"2018/12/17","v":50,"lo":0,"hi":120},{"s":"N2O and N2","d":"2018/12/19","v":10,"lo":0,"hi":30},{"s":"N2O and N2","d":"2018/12/31","v":5,"lo":0,"hi":10},{"s":"N2O and N2","d":"2019/01/24","v":10,"lo":0,"hi":20},{"s":"N2O and N2","d":"2019/01/25","v":90,"lo":30,"hi":150},{"s":"N2O and N2","d":"2019/01/26","v":10,"lo":0,"hi":20},{"s":"N2O and N2","d":"2019/02/21","v":20,"lo":5,"hi":40},{"s":"N2O and N2","d":"2019/02/24","v":96,"lo":40,"hi":150},{"s":"N2O and N2","d":"2019/02/25","v":20,"lo":5,"hi":40},{"s":"N2O and N2","d":"2019/03/01","v":10,"lo":0,"hi":20}
],
"d": [
{"s":"Default","d":"2018/10/15","v":0},{"s":"Default","d":"2018/10/30","v":0},{"s":"Default","d":"2018/10/31","v":100},{"s":"Default","d":"2018/11/01","v":560},{"s":"Default","d":"2018/11/02","v":814},{"s":"Default","d":"2018/11/03","v":763},{"s":"Default","d":"2018/11/04","v":458},{"s":"Default","d":"2018/11/05","v":204},{"s":"Default","d":"2018/11/07","v":76},{"s":"Default","d":"2018/11/10","v":25},{"s":"Default","d":"2018/11/13","v":5},{"s":"Default","d":"2018/11/23","v":0},{"s":"Default","d":"2018/11/24","v":300},{"s":"Default","d":"2018/11/25","v":1300},{"s":"Default","d":"2018/11/26","v":2046},{"s":"Default","d":"2018/11/27","v":1578},{"s":"Default","d":"2018/11/28","v":865},{"s":"Default","d":"2018/11/29","v":500},{"s":"Default","d":"2018/11/30","v":280},{"s":"Default","d":"2018/12/01","v":160},{"s":"Default","d":"2018/12/04","v":50},{"s":"Default","d":"2018/12/07","v":10},{"s":"Default","d":"2018/12/14","v":0},{"s":"Default","d":"2018/12/15","v":80},{"s":"Default","d":"2018/12/16","v":400},{"s":"Default","d":"2018/12/17","v":700},{"s":"Default","d":"2018/12/18","v":930},{"s":"Default","d":"2018/12/19","v":480},{"s":"Default","d":"2018/12/20","v":290},{"s":"Default","d":"2018/12/21","v":180},{"s":"Default","d":"2018/12/22","v":110},{"s":"Default","d":"2018/12/24","v":55},{"s":"Default","d":"2018/12/26","v":35},{"s":"Default","d":"2018/12/27","v":60},{"s":"Default","d":"2018/12/28","v":142},{"s":"Default","d":"2018/12/29","v":107},{"s":"Default","d":"2018/12/30","v":122},{"s":"Default","d":"2019/01/01","v":152},{"s":"Default","d":"2019/01/04","v":132},{"s":"Default","d":"2019/01/07","v":81},{"s":"Default","d":"2019/01/10","v":46},{"s":"Default","d":"2019/01/16","v":30},{"s":"Default","d":"2019/01/23","v":20},{"s":"Default","d":"2019/02/02","v":15},{"s":"Default","d":"2019/03/01","v":5},
{"s":"N2O only","d":"2018/10/15","v":0,"lo":0,"hi":0},{"s":"N2O only","d":"2018/10/30","v":0,"lo":0,"hi":0},{"s":"N2O only","d":"2018/10/31","v":254,"lo":50,"hi":450},{"s":"N2O only","d":"2018/11/01","v":458,"lo":90,"hi":800},{"s":"N2O only","d":"2018/11/02","v":407,"lo":80,"hi":750},{"s":"N2O only","d":"2018/11/03","v":250,"lo":50,"hi":500},{"s":"N2O only","d":"2018/11/04","v":150,"lo":30,"hi":300},{"s":"N2O only","d":"2018/11/05","v":90,"lo":18,"hi":180},{"s":"N2O only","d":"2018/11/07","v":36,"lo":7,"hi":70},{"s":"N2O only","d":"2018/11/10","v":5,"lo":1,"hi":10},{"s":"N2O only","d":"2018/11/23","v":0,"lo":0,"hi":0},{"s":"N2O only","d":"2018/11/24","v":450,"lo":90,"hi":800},{"s":"N2O only","d":"2018/11/25","v":865,"lo":170,"hi":1400},{"s":"N2O only","d":"2018/11/26","v":662,"lo":130,"hi":1200},{"s":"N2O only","d":"2018/11/27","v":400,"lo":80,"hi":800},{"s":"N2O only","d":"2018/11/28","v":200,"lo":40,"hi":450},{"s":"N2O only","d":"2018/11/29","v":110,"lo":20,"hi":250},{"s":"N2O only","d":"2018/12/01","v":36,"lo":7,"hi":80},{"s":"N2O only","d":"2018/12/04","v":5,"lo":1,"hi":10},{"s":"N2O only","d":"2018/12/14","v":0,"lo":0,"hi":0},{"s":"N2O only","d":"2018/12/15","v":50,"lo":10,"hi":100},{"s":"N2O only","d":"2018/12/16","v":220,"lo":45,"hi":420},{"s":"N2O only","d":"2018/12/17","v":331,"lo":65,"hi":600},{"s":"N2O only","d":"2018/12/18","v":230,"lo":45,"hi":450},{"s":"N2O only","d":"2018/12/19","v":120,"lo":24,"hi":240},{"s":"N2O only","d":"2018/12/21","v":41,"lo":8,"hi":90},{"s":"N2O only","d":"2018/12/23","v":20,"lo":4,"hi":40},{"s":"N2O only","d":"2018/12/26","v":5,"lo":1,"hi":10},{"s":"N2O only","d":"2018/12/27","v":20,"lo":4,"hi":40},{"s":"N2O only","d":"2018/12/28","v":132,"lo":30,"hi":260},{"s":"N2O only","d":"2018/12/29","v":81,"lo":20,"hi":170},{"s":"N2O only","d":"2018/12/30","v":117,"lo":25,"hi":230},{"s":"N2O only","d":"2018/12/31","v":107,"lo":22,"hi":210},{"s":"N2O only","d":"2019/01/03","v":66,"lo":14,"hi":130},{"s":"N2O only","d":"2019/01/07","v":30,"lo":6,"hi":60},{"s":"N2O only","d":"2019/01/12","v":10,"lo":2,"hi":20},{"s":"N2O only","d":"2019/01/20","v":5,"lo":1,"hi":10},{"s":"N2O only","d":"2019/03/01","v":3,"lo":1,"hi":6},
{"s":"N2O and N2","d":"2018/10/15","v":0,"lo":0,"hi":0},{"s":"N2O and N2","d":"2018/10/23","v":0,"lo":0,"hi":0},{"s":"N2O and N2","d":"2018/10/24","v":100,"lo":30,"hi":350},{"s":"N2O and N2","d":"2018/10/26","v":127,"lo":40,"hi":360},{"s":"N2O and N2","d":"2018/10/28","v":100,"lo":30,"hi":340},{"s":"N2O and N2","d":"2018/10/29","v":80,"lo":20,"hi":320},{"s":"N2O and N2","d":"2018/10/30","v":61,"lo":15,"hi":300},{"s":"N2O and N2","d":"2018/10/31","v":3385,"lo":800,"hi":7000},{"s":"N2O and N2","d":"2018/11/01","v":2750,"lo":600,"hi":7000},{"s":"N2O and N2","d":"2018/11/02","v":2775,"lo":500,"hi":6000},{"s":"N2O and N2","d":"2018/11/03","v":2300,"lo":400,"hi":4200},{"s":"N2O and N2","d":"2018/11/04","v":1750,"lo":300,"hi":3500},{"s":"N2O and N2","d":"2018/11/05","v":1300,"lo":200,"hi":3000},{"s":"N2O and N2","d":"2018/11/06","v":950,"lo":150,"hi":2700},{"s":"N2O and N2","d":"2018/11/07","v":700,"lo":100,"hi":2300},{"s":"N2O and N2","d":"2018/11/08","v":500,"lo":70,"hi":2000},{"s":"N2O and N2","d":"2018/11/09","v":370,"lo":50,"hi":1650},{"s":"N2O and N2","d":"2018/11/10","v":280,"lo":40,"hi":1400},{"s":"N2O and N2","d":"2018/11/12","v":180,"lo":25,"hi":1070},{"s":"N2O and N2","d":"2018/11/14","v":110,"lo":15,"hi":800},{"s":"N2O and N2","d":"2018/11/16","v":76,"lo":10,"hi":560},{"s":"N2O and N2","d":"2018/11/19","v":50,"lo":5,"hi":300},{"s":"N2O and N2","d":"2018/11/23","v":36,"lo":5,"hi":150},{"s":"N2O and N2","d":"2018/11/24","v":9000,"lo":2000,"hi":15000},{"s":"N2O and N2","d":"2018/11/25","v":6000,"lo":1500,"hi":12000},{"s":"N2O and N2","d":"2018/11/26","v":3500,"lo":900,"hi":8000},{"s":"N2O and N2","d":"2018/11/27","v":2000,"lo":500,"hi":5500},{"s":"N2O and N2","d":"2018/11/28","v":1550,"lo":400,"hi":4500},{"s":"N2O and N2","d":"2018/11/29","v":1100,"lo":300,"hi":3800},{"s":"N2O and N2","d":"2018/12/01","v":600,"lo":150,"hi":3000},{"s":"N2O and N2","d":"2018/12/03","v":350,"lo":80,"hi":2400},{"s":"N2O and N2","d":"2018/12/05","v":220,"lo":50,"hi":1800},{"s":"N2O and N2","d":"2018/12/08","v":100,"lo":20,"hi":1070},{"s":"N2O and N2","d":"2018/12/11","v":50,"lo":10,"hi":550},{"s":"N2O and N2","d":"2018/12/13","v":36,"lo":5,"hi":300},{"s":"N2O and N2","d":"2018/12/14","v":30,"lo":5,"hi":250},{"s":"N2O and N2","d":"2018/12/15","v":1700,"lo":400,"hi":7000},{"s":"N2O and N2","d":"2018/12/16","v":3400,"lo":800,"hi":9000},{"s":"N2O and N2","d":"2018/12/17","v":4300,"lo":1000,"hi":9000},{"s":"N2O and N2","d":"2018/12/18","v":2100,"lo":500,"hi":7000},{"s":"N2O and N2","d":"2018/12/19","v":1500,"lo":350,"hi":5000},{"s":"N2O and N2","d":"2018/12/20","v":1150,"lo":300,"hi":3500},{"s":"N2O and N2","d":"2018/12/21","v":950,"lo":250,"hi":2900},{"s":"N2O and N2","d":"2018/12/22","v":870,"lo":200,"hi":2450},{"s":"N2O and N2","d":"2018/12/23","v":720,"lo":150,"hi":2100},{"s":"N2O and N2","d":"2018/12/25","v":540,"lo":100,"hi":1400},{"s":"N2O and N2","d":"2018/12/26","v":300,"lo":60,"hi":1000},{"s":"N2O and N2","d":"2018/12/27","v":280,"lo":60,"hi":800},{"s":"N2O and N2","d":"2018/12/28","v":1910,"lo":500,"hi":7000},{"s":"N2O and N2","d":"2018/12/29","v":1900,"lo":450,"hi":5500},{"s":"N2O and N2","d":"2018/12/30","v":1050,"lo":250,"hi":3500},{"s":"N2O and N2","d":"2018/12/31","v":900,"lo":200,"hi":2500},{"s":"N2O and N2","d":"2019/01/02","v":640,"lo":140,"hi":1800},{"s":"N2O and N2","d":"2019/01/04","v":386,"lo":80,"hi":1300},{"s":"N2O and N2","d":"2019/01/06","v":183,"lo":40,"hi":900},{"s":"N2O and N2","d":"2019/01/08","v":91,"lo":20,"hi":550},{"s":"N2O and N2","d":"2019/01/12","v":41,"lo":10,"hi":200},{"s":"N2O and N2","d":"2019/01/18","v":20,"lo":5,"hi":80},{"s":"N2O and N2","d":"2019/01/25","v":30,"lo":10,"hi":80},{"s":"N2O and N2","d":"2019/01/26","v":56,"lo":20,"hi":100},{"s":"N2O and N2","d":"2019/01/28","v":30,"lo":10,"hi":70},{"s":"N2O and N2","d":"2019/02/02","v":10,"lo":3,"hi":40},{"s":"N2O and N2","d":"2019/02/21","v":10,"lo":3,"hi":30},{"s":"N2O and N2","d":"2019/02/23","v":30,"lo":10,"hi":60},{"s":"N2O and N2","d":"2019/03/01","v":10,"lo":5,"hi":20}
]
},
"resolve": {"scale": {"fill": "independent", "stroke": "independent"}, "legend": {"fill": "independent", "stroke": "independent"}},
"spacing": 14,
"vconcat": [
{
"resolve": {"scale": {"fill": "independent", "stroke": "independent"}, "legend": {"fill": "independent", "stroke": "independent"}},
"spacing": 11,
"hconcat": [
{"width": 1, "height": 1, "data": {"values": []}, "mark": "point"},
{
"width": 503, "height": 350,
"title": {"text": "(a) APSIM\u00a0 N₂O"},
"encoding": {
 "x": {"field": "d", "type": "temporal", "scale": {"domain": [{"year": 2018, "month": 10, "date": 15}, {"year": 2019, "month": 3, "date": 8}]}, "axis": {"title": null, "values": [{"year": 2018, "month": 11, "date": 1}, {"year": 2018, "month": 12, "date": 1}, {"year": 2019, "month": 1, "date": 1}, {"year": 2019, "month": 2, "date": 1}, {"year": 2019, "month": 3, "date": 1}], "format": "%b", "labelAngle": -22, "labelAlign": "right", "labelBaseline": "top", "labelFlush": false, "labelOverlap": false}},
 "y": {"field": "v", "type": "quantitative", "scale": {"domain": [0, 250]}, "axis": {"title": "N₂O emissions (g N\u00a0 ha⁻¹ d⁻¹)", "values": [0, 50, 100, 150, 200, 250], "titlePadding": 6, "minExtent": 35, "maxExtent": 35}}
},
"layer": [
 {"data": {"name": "a"}, "transform": [{"filter": "datum.s !== 'Default'"}], "mark": {"type": "area", "clip": true, "fillOpacity": 0.13}, "encoding": {"y": {"field": "lo", "type": "quantitative", "title": "N₂O emissions (g N\u00a0 ha⁻¹ d⁻¹)"}, "y2": {"field": "hi"}, "fill": {"field": "s", "type": "nominal", "scale": {"domain": ["Observed", "Default", "N2O only", "N2O and N2"], "range": ["#000000", "#16a016", "#1a75e0", "#ff6347"]}, "legend": null}}},
 {"data": {"name": "n2o_obs"}, "mark": {"type": "area", "clip": true, "fillOpacity": 0.25}, "encoding": {"y": {"field": "lo", "type": "quantitative", "title": "N₂O emissions (g N\u00a0 ha⁻¹ d⁻¹)"}, "y2": {"field": "hi"}, "fill": {"datum": "Observed", "type": "nominal", "scale": {"domain": ["Observed", "Default", "N2O only", "N2O and N2"], "range": ["#000000", "#16a016", "#1a75e0", "#ff6347"]}, "legend": null}}},
 {"data": {"name": "n2o_obs"}, "mark": {"type": "line", "clip": true, "strokeWidth": 2.2}, "encoding": {"stroke": {"datum": "Observed", "type": "nominal", "scale": {"domain": ["Observed", "Default", "N2O only", "N2O and N2"], "range": ["#000000", "#16a016", "#1a75e0", "#ff6347"]}, "legend": null}}},
 {"data": {"name": "a"}, "mark": {"type": "line", "clip": true, "strokeWidth": 2}, "encoding": {"stroke": {"field": "s", "type": "nominal", "scale": {"domain": ["Observed", "Default", "N2O only", "N2O and N2"], "range": ["#000000", "#16a016", "#1a75e0", "#ff6347"]}, "legend": null}}}
]
},
{
"width": 521, "height": 350,
"title": {"text": "(b) LDNDC\u00a0 N₂O"},
"encoding": {
 "x": {"field": "d", "type": "temporal", "scale": {"domain": [{"year": 2018, "month": 10, "date": 8}, {"year": 2019, "month": 3, "date": 6}]}, "axis": {"title": null, "values": [{"year": 2018, "month": 11, "date": 1}, {"year": 2018, "month": 12, "date": 1}, {"year": 2019, "month": 1, "date": 1}, {"year": 2019, "month": 2, "date": 1}, {"year": 2019, "month": 3, "date": 1}], "format": "%b", "labelAngle": -22, "labelAlign": "right", "labelBaseline": "top", "labelFlush": false, "labelOverlap": false}},
 "y": {"field": "v", "type": "quantitative", "scale": {"domain": [0, 250]}, "axis": {"title": null, "values": [0, 50, 100, 150, 200, 250], "minExtent": 35, "maxExtent": 35}}
},
"layer": [
 {"data": {"name": "b"}, "transform": [{"filter": "datum.s !== 'Default'"}], "mark": {"type": "area", "clip": true, "fillOpacity": 0.13}, "encoding": {"y": {"field": "lo", "type": "quantitative", "title": null}, "y2": {"field": "hi"}, "fill": {"field": "s", "type": "nominal", "scale": {"domain": ["Observed", "Default", "N2O only", "N2O and N2"], "range": ["#000000", "#16a016", "#1a75e0", "#ff6347"]}, "legend": {"orient": "none", "legendX": 364, "legendY": -4, "title": null, "symbolType": "square", "symbolSize": 529, "symbolOpacity": 0.45, "symbolStrokeWidth": 2.5, "symbolStrokeColor": "transparent", "clipHeight": 25, "labelFontSize": 14.5, "labelColor": "#000", "labelOffset": 10, "rowPadding": 1, "padding": 0, "labelExpr": "datum.label == 'N2O only' ? 'N₂O\u00a0 only' : datum.label == 'N2O and N2' ? 'N₂O\u00a0 and\u00a0 N₂' : datum.label"}}}},
 {"data": {"name": "n2o_obs"}, "mark": {"type": "area", "clip": true, "fillOpacity": 0.25}, "encoding": {"y": {"field": "lo", "type": "quantitative", "title": null}, "y2": {"field": "hi"}, "fill": {"datum": "Observed", "type": "nominal", "scale": {"domain": ["Observed", "Default", "N2O only", "N2O and N2"], "range": ["#000000", "#16a016", "#1a75e0", "#ff6347"]}, "legend": {"orient": "none", "legendX": 364, "legendY": -4, "title": null, "symbolType": "square", "symbolSize": 529, "symbolOpacity": 0.45, "symbolStrokeWidth": 2.5, "symbolStrokeColor": "transparent", "clipHeight": 25, "labelFontSize": 14.5, "labelColor": "#000", "labelOffset": 10, "rowPadding": 1, "padding": 0, "labelExpr": "datum.label == 'N2O only' ? 'N₂O\u00a0 only' : datum.label == 'N2O and N2' ? 'N₂O\u00a0 and\u00a0 N₂' : datum.label"}}}},
 {"data": {"name": "n2o_obs"}, "mark": {"type": "line", "clip": true, "strokeWidth": 2.2}, "encoding": {"stroke": {"datum": "Observed", "type": "nominal", "scale": {"domain": ["Observed", "Default", "N2O only", "N2O and N2", "zz"], "range": ["#000000", "#16a016", "#1a75e0", "#ff6347", "#ffffff"]}, "legend": {"orient": "none", "legendX": 364, "legendY": -4, "title": null, "values": ["Observed", "Default", "N2O only", "N2O and N2"], "symbolType": "stroke", "symbolSize": 529, "symbolStrokeWidth": 2.5, "clipHeight": 25, "labelFontSize": 14.5, "labelOffset": 10, "rowPadding": 1, "padding": 0, "labelExpr": "''"}}}},
 {"data": {"name": "b"}, "mark": {"type": "line", "clip": true, "strokeWidth": 2}, "encoding": {"stroke": {"field": "s", "type": "nominal", "scale": {"domain": ["Observed", "Default", "N2O only", "N2O and N2", "zz"], "range": ["#000000", "#16a016", "#1a75e0", "#ff6347", "#ffffff"]}, "legend": {"orient": "none", "legendX": 364, "legendY": -4, "title": null, "values": ["Observed", "Default", "N2O only", "N2O and N2"], "symbolType": "stroke", "symbolSize": 529, "symbolStrokeWidth": 2.5, "clipHeight": 25, "labelFontSize": 14.5, "labelOffset": 10, "rowPadding": 1, "padding": 0, "labelExpr": "''"}}}}
]
}
]
},
{
"resolve": {"scale": {"fill": "independent", "stroke": "independent"}, "legend": {"fill": "independent", "stroke": "independent"}},
"spacing": 10,
"hconcat": [
{"width": 1, "height": 1, "data": {"values": []}, "mark": "point"},
{
"width": 494, "height": 328,
"title": {"text": "(c) APSIM\u00a0 N₂"},
"encoding": {
 "x": {"field": "d", "type": "temporal", "scale": {"domain": [{"year": 2018, "month": 10, "date": 15}, {"year": 2019, "month": 3, "date": 8}]}, "axis": {"title": "Date", "values": [{"year": 2018, "month": 11, "date": 1}, {"year": 2018, "month": 12, "date": 1}, {"year": 2019, "month": 1, "date": 1}, {"year": 2019, "month": 2, "date": 1}, {"year": 2019, "month": 3, "date": 1}], "format": "%b", "labelAngle": -22, "labelAlign": "right", "labelBaseline": "top", "labelFlush": false, "labelOverlap": false, "titlePadding": 1}},
 "y": {"field": "v", "type": "quantitative", "scale": {"domain": [0, 5000]}, "axis": {"title": "N₂ emissions (g N\u00a0 ha⁻¹ d⁻¹)", "values": [0, 1000, 2000, 3000, 4000, 5000], "format": "d", "titlePadding": 6, "minExtent": 45, "maxExtent": 45}}
},
"layer": [
 {"data": {"name": "c"}, "transform": [{"filter": "datum.s !== 'Default'"}], "mark": {"type": "area", "clip": true, "fillOpacity": 0.13}, "encoding": {"y": {"field": "lo", "type": "quantitative", "title": "N₂ emissions (g N\u00a0 ha⁻¹ d⁻¹)"}, "y2": {"field": "hi"}, "fill": {"field": "s", "type": "nominal", "scale": {"domain": ["Observed", "Default", "N2O only", "N2O and N2"], "range": ["#000000", "#16a016", "#1a75e0", "#ff6347"]}, "legend": null}}},
 {"data": {"name": "n2_obs"}, "mark": {"type": "area", "clip": true, "fillOpacity": 0.25}, "encoding": {"y": {"field": "lo", "type": "quantitative", "title": "N₂ emissions (g N\u00a0 ha⁻¹ d⁻¹)"}, "y2": {"field": "hi"}, "fill": {"datum": "Observed", "type": "nominal", "scale": {"domain": ["Observed", "Default", "N2O only", "N2O and N2"], "range": ["#000000", "#16a016", "#1a75e0", "#ff6347"]}, "legend": null}}},
 {"data": {"name": "n2_obs"}, "mark": {"type": "line", "clip": true, "strokeWidth": 2.2}, "encoding": {"stroke": {"datum": "Observed", "type": "nominal", "scale": {"domain": ["Observed", "Default", "N2O only", "N2O and N2"], "range": ["#000000", "#16a016", "#1a75e0", "#ff6347"]}, "legend": null}}},
 {"data": {"name": "c"}, "mark": {"type": "line", "clip": true, "strokeWidth": 2}, "encoding": {"stroke": {"field": "s", "type": "nominal", "scale": {"domain": ["Observed", "Default", "N2O only", "N2O and N2"], "range": ["#000000", "#16a016", "#1a75e0", "#ff6347"]}, "legend": null}}}
]
},
{
"width": 514, "height": 328,
"title": {"text": "(d) LDNDC\u00a0 N₂"},
"encoding": {
 "x": {"field": "d", "type": "temporal", "scale": {"domain": [{"year": 2018, "month": 10, "date": 8}, {"year": 2019, "month": 3, "date": 6}]}, "axis": {"title": "Date", "values": [{"year": 2018, "month": 11, "date": 1}, {"year": 2018, "month": 12, "date": 1}, {"year": 2019, "month": 1, "date": 1}, {"year": 2019, "month": 2, "date": 1}, {"year": 2019, "month": 3, "date": 1}], "format": "%b", "labelAngle": -22, "labelAlign": "right", "labelBaseline": "top", "labelFlush": false, "labelOverlap": false, "titlePadding": 1}},
 "y": {"field": "v", "type": "quantitative", "scale": {"domain": [0, 5000]}, "axis": {"title": null, "values": [0, 1000, 2000, 3000, 4000, 5000], "format": "d", "minExtent": 45, "maxExtent": 45}}
},
"layer": [
 {"data": {"name": "d"}, "transform": [{"filter": "datum.s !== 'Default'"}], "mark": {"type": "area", "clip": true, "fillOpacity": 0.13}, "encoding": {"y": {"field": "lo", "type": "quantitative", "title": null}, "y2": {"field": "hi"}, "fill": {"field": "s", "type": "nominal", "scale": {"domain": ["Observed", "Default", "N2O only", "N2O and N2"], "range": ["#000000", "#16a016", "#1a75e0", "#ff6347"]}, "legend": null}}},
 {"data": {"name": "n2_obs"}, "mark": {"type": "area", "clip": true, "fillOpacity": 0.25}, "encoding": {"y": {"field": "lo", "type": "quantitative", "title": null}, "y2": {"field": "hi"}, "fill": {"datum": "Observed", "type": "nominal", "scale": {"domain": ["Observed", "Default", "N2O only", "N2O and N2"], "range": ["#000000", "#16a016", "#1a75e0", "#ff6347"]}, "legend": null}}},
 {"data": {"name": "n2_obs"}, "mark": {"type": "line", "clip": true, "strokeWidth": 2.2}, "encoding": {"stroke": {"datum": "Observed", "type": "nominal", "scale": {"domain": ["Observed", "Default", "N2O only", "N2O and N2"], "range": ["#000000", "#16a016", "#1a75e0", "#ff6347"]}, "legend": null}}},
 {"data": {"name": "d"}, "mark": {"type": "line", "clip": true, "strokeWidth": 2}, "encoding": {"stroke": {"field": "s", "type": "nominal", "scale": {"domain": ["Observed", "Default", "N2O only", "N2O and N2"], "range": ["#000000", "#16a016", "#1a75e0", "#ff6347"]}, "legend": null}}}
]
}
]
}
]
}
